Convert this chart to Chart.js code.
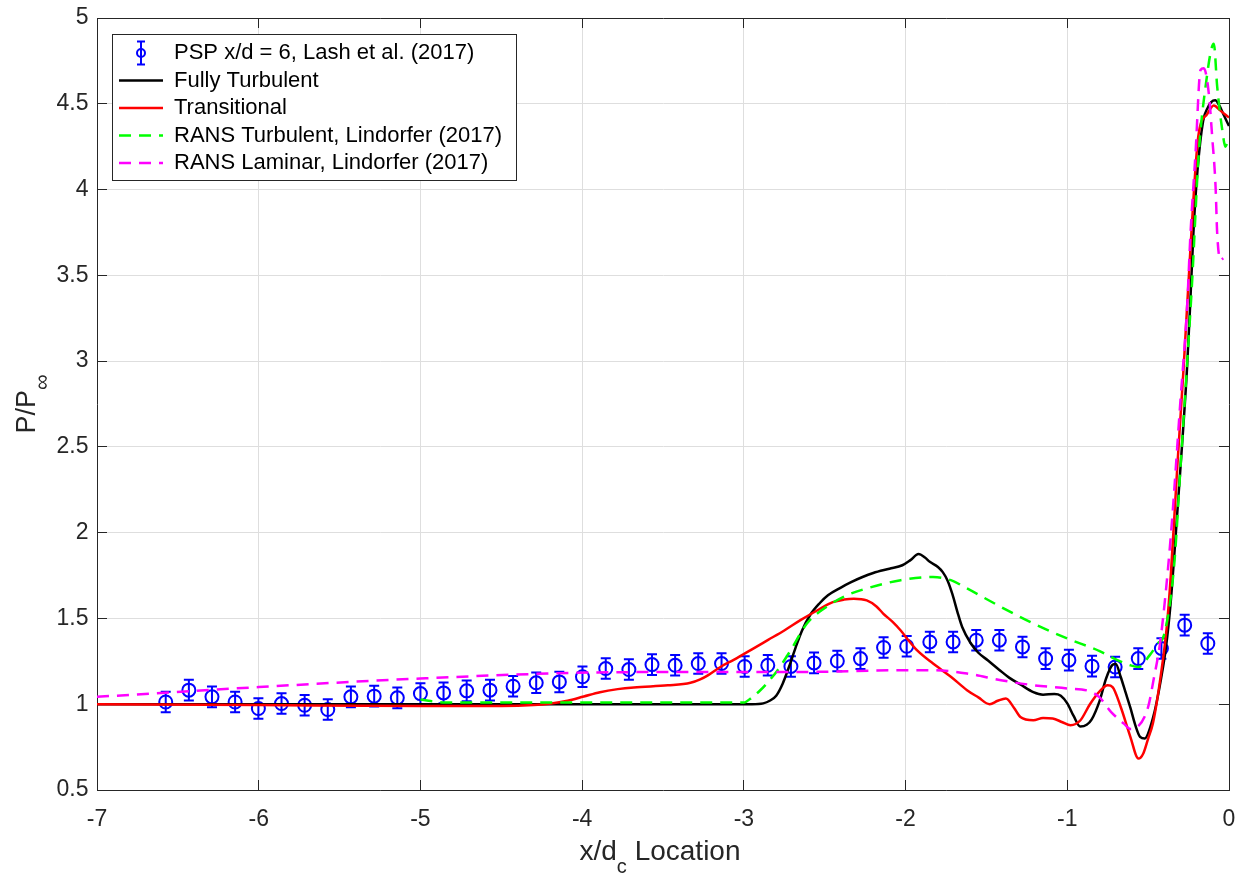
<!DOCTYPE html>
<html><head><meta charset="utf-8">
<script src="https://cdn.jsdelivr.net/npm/chart.js@4.4.1/dist/chart.umd.min.js"></script>
<style>html,body{margin:0;padding:0;background:#fff}canvas{display:block}</style>
</head><body>
<canvas id="c" width="1243" height="874"></canvas>
<script>
// ---------- data ----------
const seriesLabels = ['PSP x/d = 6, Lash et al. (2017)', 'Fully Turbulent', 'Transitional',
  'RANS Turbulent, Lindorfer (2017)', 'RANS Laminar, Lindorfer (2017)'];

const xTickValues = [-7, -6, -5, -4, -3, -2, -1, 0];
const xTickLabels = ['-7', '-6', '-5', '-4', '-3', '-2', '-1', '0'];
const yTickValues = [0.5, 1, 1.5, 2, 2.5, 3, 3.5, 4, 4.5, 5];
const yTickLabels = ['0.5', '1', '1.5', '2', '2.5', '3', '3.5', '4', '4.5', '5'];

const pspX = [-6.575, -6.432, -6.289, -6.146, -6.002, -5.859, -5.716, -5.573, -5.430, -5.286,
  -5.143, -5.000, -4.857, -4.714, -4.570, -4.427, -4.284, -4.141, -3.998, -3.854,
  -3.711, -3.568, -3.425, -3.282, -3.138, -2.995, -2.852, -2.709, -2.566, -2.422,
  -2.279, -2.136, -1.993, -1.850, -1.706, -1.563, -1.420, -1.277, -1.134, -0.990,
  -0.847, -0.704, -0.561, -0.418, -0.274, -0.131];
const pspY = [1.013, 1.082, 1.043, 1.013, 0.975, 1.004, 0.994, 0.969, 1.043, 1.047,
  1.037, 1.062, 1.066, 1.078, 1.082, 1.105, 1.125, 1.130, 1.160, 1.208,
  1.202, 1.231, 1.227, 1.237, 1.237, 1.220, 1.227, 1.220, 1.241, 1.252,
  1.266, 1.331, 1.338, 1.363, 1.363, 1.373, 1.373, 1.334, 1.266, 1.257,
  1.222, 1.217, 1.266, 1.325, 1.461, 1.354];
const pspErr = [0.06, 0.06, 0.06, 0.06, 0.06, 0.06, 0.06, 0.06, 0.06, 0.06,
  0.06, 0.06, 0.06, 0.06, 0.06, 0.06, 0.06, 0.06, 0.06, 0.06,
  0.06, 0.06, 0.06, 0.06, 0.06, 0.06, 0.06, 0.06, 0.06, 0.06,
  0.06, 0.06, 0.06, 0.06, 0.06, 0.06, 0.06, 0.06, 0.06, 0.06,
  0.06, 0.06, 0.06, 0.06, 0.06, 0.06];

const turbX = [-7, -3.2, -2.95, -2.88, -2.84, -2.80, -2.76, -2.72, -2.68, -2.64, -2.59, -2.53, -2.48,
  -2.40, -2.34, -2.27, -2.20, -2.10, -2.02, -1.97, -1.92, -1.88, -1.85, -1.80, -1.77, -1.74, -1.71,
  -1.68, -1.65, -1.60, -1.55, -1.49, -1.42, -1.36, -1.29, -1.21, -1.15, -1.08, -1.04, -1.00, -0.96,
  -0.92, -0.88, -0.85, -0.80, -0.76, -0.72, -0.70, -0.67, -0.64, -0.61, -0.58, -0.55, -0.52, -0.50,
  -0.47, -0.45, -0.42, -0.39, -0.36, -0.33, -0.30, -0.26, -0.24, -0.22, -0.195, -0.16, -0.13, -0.11,
  -0.085, -0.06, -0.03, 0];
const turbY = [1.0, 1.0, 1.0, 1.005, 1.02, 1.05, 1.12, 1.22, 1.33, 1.43, 1.52, 1.59, 1.635,
  1.68, 1.71, 1.74, 1.765, 1.79, 1.81, 1.84, 1.875, 1.855, 1.83, 1.80, 1.77, 1.72, 1.64,
  1.54, 1.45, 1.36, 1.30, 1.255, 1.20, 1.155, 1.115, 1.07, 1.055, 1.06, 1.05, 1.005, 0.93,
  0.87, 0.88, 0.91, 1.02, 1.15, 1.23, 1.235, 1.16, 1.07, 0.98, 0.88, 0.81, 0.80, 0.83,
  0.92, 1.00, 1.15, 1.33, 1.60, 1.98, 2.38, 2.95, 3.33, 3.75, 4.11, 4.40, 4.48, 4.51,
  4.52, 4.49, 4.43, 4.37];

const transX = [-7, -6, -5, -4.5, -4.3, -4.2, -4.09, -3.99, -3.89, -3.78, -3.68, -3.47, -3.33, -3.27,
  -3.22, -3.14, -3.06, -2.95, -2.85, -2.75, -2.65, -2.55, -2.45, -2.38, -2.32, -2.24, -2.18, -2.14,
  -2.08, -2.03, -1.98, -1.93, -1.83, -1.72, -1.62, -1.55, -1.48, -1.43, -1.38, -1.33, -1.29, -1.21,
  -1.15, -1.09, -1.03, -0.98, -0.92, -0.86, -0.80, -0.75, -0.72, -0.67, -0.61, -0.56, -0.53, -0.50,
  -0.47, -0.42, -0.385, -0.36, -0.32, -0.28, -0.24, -0.19, -0.135, -0.094, -0.053, 0];
const transY = [1.0, 0.995, 0.99, 0.99, 0.995, 1.003, 1.02, 1.045, 1.07, 1.088, 1.098, 1.11, 1.125, 1.145,
  1.17, 1.22, 1.26, 1.32, 1.375, 1.43, 1.49, 1.545, 1.595, 1.61, 1.615, 1.605, 1.57, 1.53,
  1.48, 1.43, 1.37, 1.315, 1.237, 1.16, 1.082, 1.04, 1.0, 1.02, 1.033, 0.98, 0.926, 0.907,
  0.92, 0.917, 0.895, 0.878, 0.905, 1.0, 1.075, 1.11, 1.10, 0.985, 0.81, 0.683, 0.713, 0.80,
  0.89, 1.18, 1.45, 1.75, 2.38, 2.97, 3.63, 4.31, 4.44, 4.49, 4.46, 4.42];

const ransTurbX = [-5.0, -4.85, -4.5, -4.0, -3.5, -3.0, -2.95, -2.90, -2.85, -2.79, -2.71, -2.61,
  -2.49, -2.36, -2.24, -2.03, -1.83, -1.72, -1.62, -1.41, -1.21, -1.0, -0.80, -0.71, -0.61, -0.56,
  -0.49, -0.44, -0.40, -0.34, -0.30, -0.26, -0.23, -0.187, -0.145, -0.094, -0.073, -0.042, -0.022, -0.011];
const ransTurbY = [1.027, 1.01, 1.01, 1.01, 1.01, 1.01, 1.04, 1.08, 1.13, 1.20, 1.315, 1.47,
  1.567, 1.636, 1.675, 1.723, 1.742, 1.723, 1.675, 1.567, 1.471, 1.383, 1.31, 1.266, 1.227, 1.217,
  1.286, 1.354, 1.41, 1.80, 2.38, 2.97, 3.43, 4.21, 4.60, 4.85, 4.60, 4.35, 4.25, 4.27];

const ransLamX = [-7, -6.0, -5.0, -3.92, -3.27, -2.65, -2.03, -1.83, -1.62, -1.41, -1.21, -1.0, -0.86,
  -0.80, -0.73, -0.65, -0.61, -0.57, -0.50, -0.467, -0.424, -0.362, -0.30, -0.26, -0.238, -0.207,
  -0.176, -0.156, -0.125, -0.104, -0.083, -0.073, -0.053, -0.035];
const ransLamY = [1.043, 1.10, 1.15, 1.185, 1.188, 1.188, 1.198, 1.198, 1.179, 1.14, 1.111, 1.092, 1.075,
  1.04, 0.955, 0.887, 0.855, 0.865, 0.984, 1.14, 1.373, 1.956, 2.773, 3.30, 3.745, 4.211,
  4.697, 4.707, 4.561, 4.308, 4.016, 3.745, 3.589, 3.60];

// ---------- helpers ----------
const pts = (xs, ys) => xs.map((x, i) => ({ x: x, y: ys[i] }));
const FONT = '"Liberation Sans", Arial, Helvetica, sans-serif';
const AXC = '#262626';
const GRIDC = '#dedede';
const DASH = [12, 8];

// legend icon for PSP (marker with error bar)
const pspIcon = document.createElement('canvas');
pspIcon.width = 20; pspIcon.height = 28;
(function () {
  const g = pspIcon.getContext('2d');
  g.strokeStyle = '#0000ff'; g.lineWidth = 2;
  g.beginPath();
  g.moveTo(10, 2.5); g.lineTo(10, 25.5);
  g.moveTo(6, 2.5); g.lineTo(14, 2.5);
  g.moveTo(6, 25.5); g.lineTo(14, 25.5);
  g.stroke();
  g.beginPath(); g.arc(10, 14, 4, 0, Math.PI * 2); g.stroke();
})();

const errorBarPlugin = {
  id: 'errorBars',
  afterDatasetDraw(chart, args) {
    if (args.index !== 0) return;
    const xs = chart.scales.x, ys = chart.scales.y, ctx = chart.ctx;
    ctx.save();
    ctx.strokeStyle = '#0000ff'; ctx.lineWidth = 2;
    pspX.forEach((xv, i) => {
      const px = xs.getPixelForValue(xv);
      const t = ys.getPixelForValue(pspY[i] + pspErr[i]);
      const b = ys.getPixelForValue(pspY[i] - pspErr[i]);
      ctx.beginPath();
      ctx.moveTo(px, t); ctx.lineTo(px, b);
      ctx.moveTo(px - 5, t); ctx.lineTo(px + 5, t);
      ctx.moveTo(px - 5, b); ctx.lineTo(px + 5, b);
      ctx.stroke();
    });
    ctx.restore();
  }
};

const LEG_FS = 22, LEG_PAD = 5.5, LEG_BOXW = 44;
const legendBoxPlugin = {
  id: 'legendBox',
  afterLayout(chart) {
    const lg = chart.legend;
    if (!lg) return;
    const ca = chart.chartArea;
    lg.left = ca.left + 16.5;
    lg.top = ca.top + 18.5;
    lg.right = lg.left + 600;
    lg.bottom = lg.top + 300;
    if (!lg._boxWrapped) {
      const orig = lg.draw;
      lg.draw = function (area) {
        const ctx = chart.ctx;
        ctx.save();
        ctx.font = LEG_FS + 'px ' + FONT;
        let maxW = 0;
        seriesLabels.forEach(s => { maxW = Math.max(maxW, ctx.measureText(s).width); });
        const x0 = Math.round(this.left - 1.5) + 0.5;
        const y0 = Math.round(this.top - 2.5) + 0.5;
        const textX = this.left + LEG_PAD + LEG_BOXW + LEG_FS / 2;
        const x1 = Math.round(textX + maxW + 14) + 0.5;
        const y1 = Math.round(this.top + LEG_PAD + seriesLabels.length * (LEG_FS + LEG_PAD)) + 0.5;
        ctx.fillStyle = '#ffffff';
        ctx.fillRect(x0, y0, x1 - x0, y1 - y0);
        ctx.strokeStyle = AXC; ctx.lineWidth = 1;
        ctx.strokeRect(x0, y0, x1 - x0, y1 - y0);
        ctx.restore();
        orig.call(this, area);
      };
      lg._boxWrapped = true;
    }
  }
};

const axisTitlePlugin = {
  id: 'axisTitles',
  afterDraw(chart) {
    const ctx = chart.ctx, ca = chart.chartArea;
    ctx.save();
    ctx.fillStyle = AXC;
    ctx.textBaseline = 'alphabetic';
    ctx.textAlign = 'left';
    // x title: x/d_c Location
    const mainF = '28px ' + FONT, subF = '20px ' + FONT;
    ctx.font = mainF; const w1 = ctx.measureText('x/d').width; const w3 = ctx.measureText(' Location').width;
    ctx.font = subF; const w2 = ctx.measureText('c').width;
    let sx = (ca.left + ca.right) / 2 - (w1 + w2 + w3) / 2 - 3;
    ctx.font = mainF; ctx.fillText('x/d', sx, 860);
    ctx.font = subF; ctx.fillText('c', sx + w1, 873);
    ctx.font = mainF; ctx.fillText(' Location', sx + w1 + w2, 860);
    // y title: P/P_inf
    const yF = '27px ' + FONT, ySubF = '22px ' + FONT;
    ctx.font = yF; const v1 = ctx.measureText('P/P').width;
    ctx.font = ySubF; const v2 = ctx.measureText('\u221E').width;
    ctx.translate(35, (ca.top + ca.bottom) / 2);
    ctx.rotate(-Math.PI / 2);
    const s0 = -(v1 + v2) / 2;
    ctx.font = yF; ctx.fillText('P/P', s0, 0);
    ctx.font = ySubF; ctx.fillText('\u221E', s0 + v1, 14);
    ctx.restore();
  }
};

const lineDs = (i, xs, ys, color, dash, order) => ({
  label: seriesLabels[i],
  data: pts(xs, ys),
  showLine: true,
  borderColor: color,
  backgroundColor: color,
  borderWidth: 2.5,
  borderDash: dash,
  pointRadius: 0,
  pointHoverRadius: 0,
  pointStyle: 'line',
  cubicInterpolationMode: 'monotone',
  fill: false,
  order: order
});

const tickFont = { family: FONT, size: 23 };
const noPad = s => { s.paddingLeft = 0; s.paddingRight = 0; s.paddingTop = 0; s.paddingBottom = 0; };

new Chart(document.getElementById('c'), {
  type: 'scatter',
  data: {
    datasets: [
      {
        label: seriesLabels[0],
        data: pts(pspX, pspY),
        showLine: false,
        borderColor: '#0000ff',
        backgroundColor: 'rgba(0,0,0,0)',
        borderWidth: 2,
        pointStyle: 'circle',
        pointRadius: 6.5,
        pointHoverRadius: 6.5,
        pointBorderWidth: 2,
        pointBorderColor: '#0000ff',
        pointBackgroundColor: 'rgba(0,0,0,0)',
        order: 5
      },
      lineDs(1, turbX, turbY, '#000000', [], 4),
      lineDs(2, transX, transY, '#ff0000', [], 3),
      lineDs(3, ransTurbX, ransTurbY, '#00ff00', DASH, 2),
      lineDs(4, ransLamX, ransLamY, '#ff00ff', DASH, 1)
    ]
  },
  options: {
    responsive: false,
    animation: false,
    events: [],
    layout: { padding: { left: 0, right: 14, top: 18, bottom: 0 } },
    scales: {
      x: {
        type: 'linear', position: 'bottom', min: -7, max: 0,
        afterBuildTicks: s => { s.ticks = xTickValues.map(v => ({ value: v })); },
        afterFit: s => { s.height = 84; noPad(s); },
        ticks: { font: tickFont, color: AXC, padding: 26, autoSkip: false, maxRotation: 0,
          callback: (v, i) => xTickLabels[i] },
        grid: { color: GRIDC, lineWidth: 1, drawTicks: true, tickLength: -10, tickColor: AXC },
        border: { color: AXC, width: 1 }
      },
      y: {
        type: 'linear', position: 'left', min: 0.5, max: 5,
        afterBuildTicks: s => { s.ticks = yTickValues.map(v => ({ value: v })); },
        afterFit: s => { s.width = 97; noPad(s); },
        ticks: { font: tickFont, color: AXC, padding: 18.5, autoSkip: false,
          callback: (v, i) => yTickLabels[i] },
        grid: { color: GRIDC, lineWidth: 1, drawTicks: true, tickLength: -10, tickColor: AXC },
        border: { color: AXC, width: 1 }
      },
      x2: {
        type: 'linear', position: 'top', min: -7, max: 0,
        afterBuildTicks: s => { s.ticks = xTickValues.map(v => ({ value: v })); },
        afterFit: s => { s.height = 0; noPad(s); },
        ticks: { display: false },
        grid: { drawOnChartArea: false, drawTicks: true, tickLength: -10, tickColor: AXC },
        border: { color: AXC, width: 1 }
      },
      y2: {
        type: 'linear', position: 'right', min: 0.5, max: 5,
        afterBuildTicks: s => { s.ticks = yTickValues.map(v => ({ value: v })); },
        afterFit: s => { s.width = 0; noPad(s); },
        ticks: { display: false },
        grid: { drawOnChartArea: false, drawTicks: true, tickLength: -10, tickColor: AXC },
        border: { color: AXC, width: 1 }
      }
    },
    plugins: {
      tooltip: { enabled: false },
      title: { display: false },
      legend: {
        display: true,
        position: 'chartArea',
        align: 'start',
        labels: {
          usePointStyle: true,
          pointStyleWidth: LEG_BOXW,
          boxHeight: LEG_FS,
          padding: LEG_PAD,
          color: '#000000',
          font: { family: FONT, size: LEG_FS },
          generateLabels: chart => chart.data.datasets.map((ds, i) => ({
            text: ds.label,
            fillStyle: 'rgba(0,0,0,0)',
            strokeStyle: ds.borderColor,
            lineWidth: ds.borderWidth,
            lineDash: ds.borderDash || [],
            lineCap: 'butt',
            hidden: false,
            pointStyle: i === 0 ? pspIcon : 'line',
            datasetIndex: i,
            fontColor: '#000000'
          }))
        }
      }
    }
  },
  plugins: [errorBarPlugin, legendBoxPlugin, axisTitlePlugin]
});
</script>
</body></html>
